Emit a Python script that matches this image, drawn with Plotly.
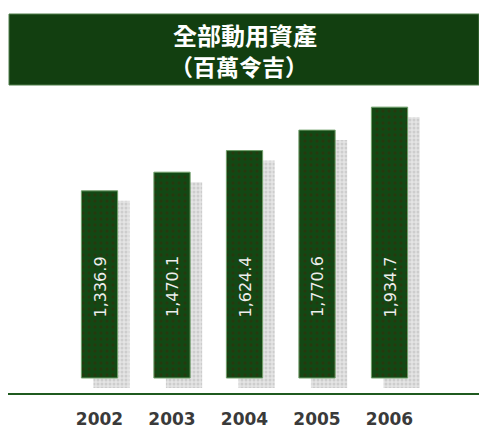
import plotly.graph_objects as go

years = [2002, 2003, 2004, 2005, 2006]
values = [1336.9, 1470.1, 1624.4, 1770.6, 1934.7]
value_labels = ["1,336.9", "1,470.1", "1,624.4", "1,770.6", "1,934.7"]
title_line1 = "全部動用資產"
title_line2 = "（百萬令吉）"

BAR_W = 0.5
SHADOW_DX = 0.166
SHADOW_DY = 71.4

fig = go.Figure()
# shadow
fig.add_trace(go.Bar(
    x=years, y=values, base=[-SHADOW_DY] * len(years),
    width=BAR_W, offset=-BAR_W / 2 + SHADOW_DX,
    marker=dict(color="#dadada", line=dict(width=0),
                pattern=dict(shape=".", fgcolor="#b5b5b5", bgcolor="#e4e4e4", size=4, solidity=0.45)),
    hoverinfo="skip", showlegend=False,
))
# bars
fig.add_trace(go.Bar(
    x=years, y=values, width=BAR_W, offset=-BAR_W / 2,
    marker=dict(color="#134a14", line=dict(width=1, color="#6f9f6a"),
                pattern=dict(shape=".", fgcolor="#3a2a0a", bgcolor="#124814", size=6, solidity=0.25)),
    showlegend=False,
))

for yr, lab in zip(years, value_labels):
    fig.add_annotation(x=yr, y=650, xref="x", yref="y", text=lab, textangle=-90,
                       showarrow=False, font=dict(family="DejaVu Sans", size=16, color="#eeeeee"))

# banner
fig.add_shape(type="rect", xref="paper", yref="paper",
              x0=(9 - 8) / 471, x1=1.0, y0=(393 - 85) / 303, y1=(393 - 14) / 303,
              fillcolor="#123f10", line=dict(width=1, color="#4f7f4a"),
              layer="above")
fig.add_annotation(xref="paper", yref="paper", x=(245 - 8) / 471, y=(393 - 35) / 303,
                   xanchor="center", yanchor="middle",
                   text=title_line1, showarrow=False,
                   font=dict(family="Noto Sans CJK TC", size=24, color="#ffffff", weight="bold"))
fig.add_annotation(xref="paper", yref="paper", x=(239 - 8) / 471, y=(393 - 66) / 303,
                   xanchor="center", yanchor="middle",
                   text=title_line2, showarrow=False,
                   font=dict(family="Noto Sans CJK TC", size=23, color="#ffffff", weight="bold"))

fig.update_layout(
    width=479, height=428,
    margin=dict(l=8, r=0, t=90, b=35),
    paper_bgcolor="white", plot_bgcolor="white",
    barmode="overlay",
    xaxis=dict(range=[2000.738, 2007.234], tickmode="array", tickvals=years,
               ticktext=[str(y) for y in years], showgrid=False, zeroline=False,
               showline=True, linecolor="#1f5a1f", linewidth=2,
               ticks="", ticklabelstandoff=10,
               tickfont=dict(family="DejaVu Sans", size=17, color="#3a3a3a", weight="bold")),
    yaxis=dict(range=[-107.1, 2057.1], visible=False, showgrid=False, zeroline=False),
)

fig.write_html("out.html")
